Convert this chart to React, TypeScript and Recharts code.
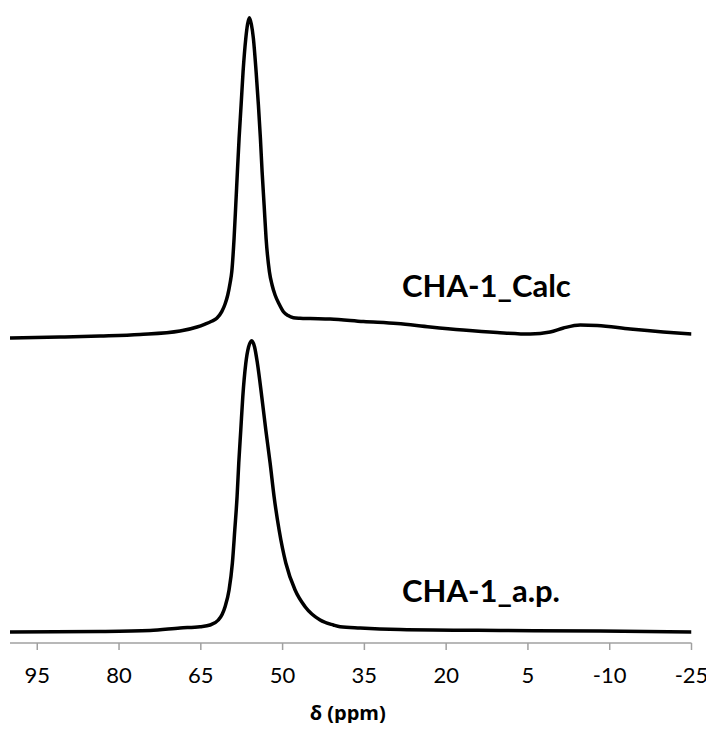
import { LineChart, Line, XAxis, YAxis, ReferenceDot } from "recharts";

// chemical shift (ppm) and intensity (a.u., already offset for stacking)
const calcPpm = [
  100, 90.83, 83.49, 76.15, 68.81, 65.69, 64.22, 63.12, 62.07, 61.16, 60.55,
  60.06, 59.63, 59.32, 58.9, 58.59, 58.29, 57.98, 57.61, 57.25, 56.75, 56.42,
  56.09, 55.74, 55.36, 54.86, 54.44, 54.07, 53.76, 53.39, 53.03, 52.42, 51.93,
  51.38, 50.64, 49.85, 48.99, 48.02, 46.8, 44.95, 41.28, 35.17, 28.99, 22.94,
  16.88, 10.64, 4.59, 0.92, -1.52, -4.59, -7.71, -13.76, -19.82, -25,
];
const calcInt = [
  48.41, 48.57, 48.73, 48.97, 49.52, 50.16, 50.63, 51.03, 51.54, 52.59, 53.81,
  55.24, 57.14, 58.94, 64.24, 69.52, 74.81, 80.11, 85.4, 90.68, 95.98, 98.25,
  99.25, 98.25, 95.98, 90.68, 85.4, 80.11, 74.81, 69.52, 64.24, 58.94, 56.83,
  55.24, 53.81, 52.59, 51.98, 51.64, 51.55, 51.5, 51.43, 51.03, 50.71, 50.16,
  49.68, 49.29, 49.05, 49.37, 50.0, 50.48, 50.4, 49.84, 49.37, 49.05,
];

const apPpm = [
  100, 83.49, 74.31, 68.81, 65.14, 63.3, 61.78, 61.1, 60.55, 59.82, 59.21,
  58.77, 58.35, 58.04, 57.67, 57.3, 56.75, 56.24, 55.65, 55.14, 54.62, 53.82,
  53.08, 52.29, 51.56, 50.64, 49.41, 47.71, 45.87, 43.12, 40.68, 39.45, 35.78,
  28.44, 10.09, -8.26, -25,
];
const apInt = [
  1.75, 1.83, 1.98, 2.38, 2.59, 2.86, 3.65, 4.52, 5.76, 8.41, 12.7, 17.94,
  23.22, 28.57, 33.81, 39.1, 44.4, 46.98, 47.98, 46.98, 44.4, 39.1, 33.81,
  28.57, 23.22, 17.94, 12.7, 8.41, 5.76, 3.65, 2.86, 2.59, 2.38, 2.14, 1.98,
  1.9, 1.75,
];

const xTicks = [95, 80, 65, 50, 35, 20, 5, -10, -25];

const calcData = calcPpm.map((ppm, i) => ({ ppm, y: calcInt[i] }));
const apData = apPpm.map((ppm, i) => ({ ppm, y: apInt[i] }));

const AXIS_GREY = "#a0a0a0";
const FONT = "Lato, 'Open Sans', sans-serif";

const seriesLabel = (text: string) => (props: any) => {
  const vb = props.viewBox;
  return (
    <text x={vb.x} y={vb.y} fontFamily={FONT} fontWeight={700} fontSize={31} fill="#000">
      {text}
    </text>
  );
};

export default function App() {
  return (
    <div>
      <style>{`.recharts-surface, .recharts-wrapper { overflow: visible !important; }`}</style>
      <LineChart
        width={698}
        height={715}
        margin={{ top: 5, right: 14.5, left: 2, bottom: 0 }}
      >
        <XAxis
          dataKey="ppm"
          type="number"
          domain={[-25, 100]}
          reversed
          ticks={xTicks}
          interval={0}
          height={80}
          allowDataOverflow
          axisLine={{ stroke: AXIS_GREY, strokeWidth: 1.5 }}
          tickLine={{ stroke: AXIS_GREY, strokeWidth: 1.5 }}
          tickSize={7}
          tickMargin={17}
          tick={{ fontSize: 22, fill: "#000", fontFamily: FONT }}
          label={{
            content: (p: any) => {
              const vb = p.viewBox;
              return (
                <text
                  x={vb.x + vb.width / 2 - 3}
                  y={vb.y + 77}
                  textAnchor="middle"
                  fontFamily="'Open Sans', sans-serif"
                  fontWeight={700}
                  fontSize={20}
                  fill="#000"
                >
                  δ (ppm)
                </text>
              );
            },
          }}
        />
        <YAxis hide type="number" domain={[0, 100]} />
        <Line
          data={calcData}
          dataKey="y"
          type="monotone"
          stroke="#000"
          strokeWidth={3.5}
          dot={false}
          isAnimationActive={false}
        />
        <Line
          data={apData}
          dataKey="y"
          type="monotone"
          stroke="#000"
          strokeWidth={3.5}
          dot={false}
          isAnimationActive={false}
        />
        <ReferenceDot x={28.1} y={55} r={0} label={{ content: seriesLabel("CHA-1_Calc") }} />
        <ReferenceDot x={28.1} y={6.5} r={0} label={{ content: seriesLabel("CHA-1_a.p.") }} />
      </LineChart>
    </div>
  );
}
